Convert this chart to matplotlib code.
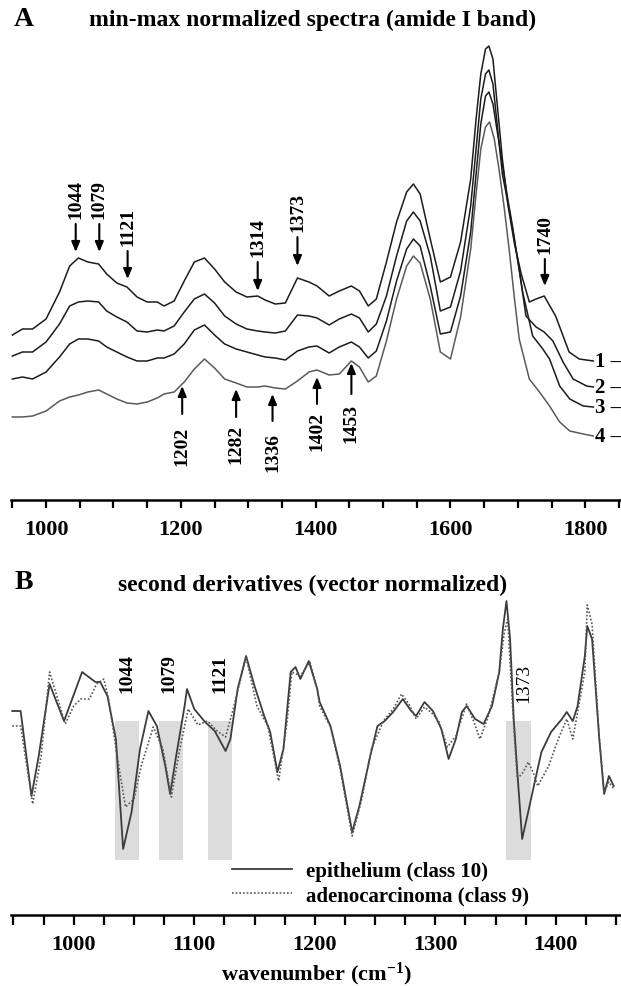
import matplotlib
matplotlib.use("Agg")
import matplotlib.pyplot as plt
from matplotlib.ticker import MultipleLocator, NullFormatter

plt.rcParams['font.family'] = ['Liberation Serif', 'DejaVu Serif']
plt.rcParams['font.weight'] = 'bold'
plt.rcParams['axes.labelweight'] = 'bold'
plt.rcParams['mathtext.fontset'] = 'custom'
plt.rcParams['mathtext.rm'] = 'Liberation Serif:bold'
plt.rcParams['mathtext.default'] = 'rm'

# ---------------- panel A: min-max normalized spectra (offset) ----------------
wn_common = [950, 965, 980, 1000, 1020, 1035, 1048, 1062, 1078, 1090,
             1105, 1120, 1135, 1150, 1165, 1175, 1190, 1205, 1220, 1235,
             1250, 1265, 1282, 1298, 1314, 1325, 1340, 1355, 1373, 1390,
             1402, 1420, 1435, 1453, 1465, 1478, 1490, 1505, 1520, 1535,
             1545, 1555, 1570, 1585, 1600, 1615, 1630]

spec1 = [1.64, 1.70, 1.70, 1.80, 2.07, 2.33, 2.41, 2.37, 2.35, 2.25,
         2.16, 2.12, 2.02, 1.97, 1.97, 1.93, 1.98, 2.18, 2.37, 2.41,
         2.30, 2.17, 2.07, 2.02, 2.03, 1.99, 1.95, 1.96, 2.21, 2.17,
         2.13, 2.03, 2.08, 2.13, 2.08, 1.93, 2.00, 2.37, 2.77, 3.07,
         3.15, 3.05, 2.60, 2.17, 2.22, 2.57, 3.20]
spec2 = [1.43, 1.47, 1.47, 1.57, 1.75, 1.93, 1.97, 1.98, 1.97, 1.88,
         1.82, 1.77, 1.68, 1.67, 1.69, 1.68, 1.73, 1.87, 2.00, 2.05,
         1.96, 1.83, 1.75, 1.70, 1.68, 1.67, 1.66, 1.68, 1.84, 1.83,
         1.81, 1.74, 1.80, 1.85, 1.81, 1.67, 1.75, 2.03, 2.43, 2.78,
         2.87, 2.78, 2.43, 1.88, 1.92, 2.28, 2.93]
spec3 = [1.20, 1.22, 1.20, 1.27, 1.42, 1.55, 1.60, 1.60, 1.58, 1.52,
         1.47, 1.42, 1.38, 1.38, 1.41, 1.41, 1.45, 1.55, 1.69, 1.74,
         1.64, 1.55, 1.50, 1.47, 1.44, 1.42, 1.41, 1.39, 1.48, 1.52,
         1.53, 1.46, 1.52, 1.57, 1.52, 1.41, 1.48, 1.78, 2.18, 2.50,
         2.60, 2.53, 2.13, 1.65, 1.67, 2.03, 2.67]
spec4 = [0.82, 0.82, 0.83, 0.88, 0.98, 1.02, 1.04, 1.07, 1.09, 1.05,
         1.00, 0.96, 0.95, 0.97, 1.01, 1.05, 1.07, 1.17, 1.30, 1.40,
         1.31, 1.20, 1.16, 1.12, 1.12, 1.13, 1.11, 1.10, 1.18, 1.27,
         1.29, 1.24, 1.25, 1.38, 1.32, 1.17, 1.23, 1.58, 2.00, 2.33,
         2.43, 2.36, 2.00, 1.47, 1.40, 1.82, 2.50]

# amide I / ester region, read separately for each trace
wn_hi1 = [1638, 1645, 1652, 1657, 1663, 1670, 1677, 1685, 1695, 1705,
          1717, 1727, 1739, 1756, 1776, 1791, 1812]
hi1 = [3.80, 4.25, 4.50, 4.53, 4.40, 3.90, 3.40, 2.95, 2.55, 2.25,
       1.97, 2.00, 2.03, 1.83, 1.47, 1.40, 1.38]
wn_hi2 = [1638, 1645, 1652, 1657, 1663, 1670, 1677, 1687, 1702, 1712,
          1727, 1739, 1752, 1767, 1782, 1802, 1812]
hi2 = [3.50, 4.00, 4.25, 4.29, 4.15, 3.70, 3.25, 2.90, 2.30, 1.83,
       1.72, 1.67, 1.58, 1.37, 1.20, 1.13, 1.12]
wn_hi3 = [1638, 1645, 1652, 1657, 1663, 1670, 1677, 1685, 1692, 1707,
          1722, 1737, 1747, 1762, 1777, 1797, 1812]
hi3 = [3.25, 3.75, 4.03, 4.07, 3.95, 3.65, 3.35, 3.00, 2.73, 2.07,
       1.63, 1.50, 1.40, 1.13, 1.00, 0.93, 0.92]
wn_hi4 = [1638, 1645, 1652, 1658, 1665, 1672, 1680, 1687, 1695, 1702,
          1717, 1732, 1747, 1762, 1777, 1797, 1812]
hi4 = [3.05, 3.50, 3.72, 3.77, 3.60, 3.30, 2.90, 2.50, 2.00, 1.60,
       1.20, 1.07, 0.93, 0.77, 0.68, 0.65, 0.63]

trace_labels = ['1', '2', '3', '4']
trace_colors = ['#1c1c1c', '#1c1c1c', '#1c1c1c', '#5a5a5a']

# band assignments marked with arrows
down_marks = [1044, 1079, 1121, 1314, 1373, 1740]
down_tail = [2.75, 2.75, 2.48, 2.37, 2.62, 2.40]
down_tip = [2.47, 2.47, 2.20, 2.08, 2.33, 2.13]
up_marks = [1202, 1282, 1336, 1402, 1453]
up_tail = [0.85, 0.82, 0.78, 0.95, 1.05]
up_tip = [1.13, 1.10, 1.05, 1.22, 1.36]
up_text_top = [0.73, 0.75, 0.67, 0.88, 0.96]

# ---------------- panel B: second derivatives ----------------
wn_epi = [949, 956, 965, 971, 980, 992, 1007, 1018, 1022, 1028,
          1035, 1041, 1048, 1055, 1062, 1069, 1076, 1080, 1085, 1092,
          1094, 1100, 1109, 1117, 1126, 1130, 1136, 1143, 1150, 1158,
          1163, 1169, 1174, 1180, 1184, 1188, 1195, 1202, 1204, 1213,
          1221, 1231, 1237, 1246, 1252, 1258, 1265, 1273, 1280, 1284,
          1291, 1298, 1305, 1311, 1317, 1322, 1326, 1333, 1340, 1347,
          1353, 1356, 1359, 1362, 1365, 1368, 1372, 1377, 1383, 1388,
          1396, 1405, 1409, 1414, 1418, 1424, 1426, 1430, 1436, 1440,
          1444, 1448]
d2_epi = [0.00, 0.00, -0.85, -0.45, 0.27, -0.10, 0.39, 0.29, 0.29, 0.15,
          -0.28, -1.38, -1.01, -0.38, 0.00, -0.15, -0.55, -0.83, -0.45, 0.05,
          0.22, 0.02, -0.11, -0.20, -0.40, -0.28, 0.22, 0.55, 0.25, -0.05,
          -0.21, -0.61, -0.38, 0.39, 0.44, 0.32, 0.50, 0.22, 0.09, -0.15,
          -0.55, -1.21, -0.95, -0.45, -0.15, -0.10, -0.01, 0.12, 0.00, -0.05,
          0.09, 0.00, -0.18, -0.48, -0.28, -0.01, 0.05, -0.08, -0.13, 0.05,
          0.39, 0.82, 1.10, 0.72, -0.08, -0.61, -1.28, -1.01, -0.68, -0.41,
          -0.21, -0.08, -0.01, -0.10, 0.05, 0.55, 0.85, 0.72, -0.28, -0.83,
          -0.65, -0.75]

wn_adc = [949, 956, 966, 973, 980, 993, 1000, 1006, 1013, 1019,
          1025, 1029, 1036, 1043, 1050, 1056, 1066, 1074, 1081, 1088,
          1095, 1103, 1111, 1119, 1126, 1133, 1143, 1152, 1161, 1170,
          1177, 1181, 1188, 1196, 1202, 1204, 1213, 1221, 1231, 1239,
          1247, 1257, 1265, 1272, 1278, 1284, 1291, 1298, 1303, 1310,
          1317, 1326, 1332, 1337, 1344, 1353, 1357, 1360, 1364, 1368,
          1373, 1377, 1381, 1385, 1394, 1402, 1409, 1414, 1418, 1424,
          1426, 1430, 1436, 1440, 1444, 1448]
d2_adc = [-0.15, -0.15, -0.93, -0.45, 0.39, -0.13, 0.05, 0.12, 0.12, 0.27,
          0.32, 0.12, -0.45, -0.96, -0.88, -0.55, -0.16, -0.38, -0.86, -0.38,
          0.02, -0.14, -0.10, -0.20, -0.26, 0.05, 0.54, 0.05, -0.15, -0.70,
          -0.11, 0.39, 0.35, 0.49, 0.22, 0.05, -0.16, -0.58, -1.25, -0.88,
          -0.38, -0.10, 0.02, 0.17, 0.07, -0.08, 0.04, -0.03, -0.11, -0.36,
          -0.25, 0.07, -0.11, -0.28, -0.05, 0.39, 0.77, 0.92, 0.05, -0.68,
          -0.61, -0.51, -0.61, -0.75, -0.55, -0.28, -0.08, -0.28, -0.01, 0.39,
          1.06, 0.87, -0.28, -0.81, -0.71, -0.78]

band_marks = [1044, 1079, 1121, 1373]
band_lo = [1034, 1071, 1111, 1359]
band_hi = [1054, 1091, 1131, 1379]
band_top, band_bottom = -0.10, -1.49
band_label_bold = [True, True, True, False]


def style_axis(ax, xlim, major, minor):
    for s in ('left', 'right', 'top'):
        ax.spines[s].set_visible(False)
    ax.spines['bottom'].set_linewidth(1.8)
    ax.set_yticks([])
    ax.set_xlim(*xlim)
    ax.xaxis.set_major_locator(MultipleLocator(major))
    ax.xaxis.set_minor_locator(MultipleLocator(minor))
    ax.xaxis.set_minor_formatter(NullFormatter())
    ax.tick_params(axis='x', which='both', direction='out', length=6,
                   width=1.6, labelsize=16, pad=8)


fig = plt.figure(figsize=(6.21, 9.87), dpi=100)
W, H = 621.0, 987.0

# panel A
axA = fig.add_axes([11 / W, 1 - 501 / H, 610 / W, 461 / H])
wns = [wn_common + wn_hi1, wn_common + wn_hi2, wn_common + wn_hi3, wn_common + wn_hi4]
vals = [spec1 + hi1, spec2 + hi2, spec3 + hi3, spec4 + hi4]
for x, y, lab, c in zip(wns, vals, trace_labels, trace_colors):
    axA.plot(x, y, color=c, lw=1.1)
    # trace number with a short dash, flush with the right edge
    axA.text(1853, y[-1], lab + ' \u2013', ha='right', va='center',
             fontsize=15, color='k')

arrow_kw = dict(arrowstyle='-|>,head_length=0.6,head_width=0.25',
                color='k', lw=1.5, shrinkA=0, shrinkB=0)
for m, t0, t1 in zip(down_marks, down_tail, down_tip):
    axA.annotate('', xy=(m, t1), xytext=(m, t0), arrowprops=arrow_kw)
    axA.text(m, t0 + 0.06, str(m), rotation=90, ha='center', va='bottom',
             fontsize=14)
for m, t0, t1, tt in zip(up_marks, up_tail, up_tip, up_text_top):
    axA.annotate('', xy=(m, t1), xytext=(m, t0), arrowprops=arrow_kw)
    axA.text(m, tt, str(m), rotation=90, ha='center', va='top', fontsize=14)

axA.set_ylim(-0.01, 4.60)
style_axis(axA, (948, 1853), 200, 50)

# panel B
axB = fig.add_axes([11 / W, 1 - 916 / H, 610 / W, 326 / H])
for lo, hi in zip(band_lo, band_hi):
    axB.fill_between([lo, hi], band_bottom, band_top, color='#dcdcdc', lw=0, zorder=0)
for m, bold in zip(band_marks, band_label_bold):
    axB.text(m, band_top + (0.29 if bold else 0.19), str(m), rotation=90,
             ha='center', va='bottom', fontsize=14,
             fontweight='bold' if bold else 'normal')
axB.plot(wn_epi, d2_epi, color='#3c3c3c', lw=1.3, label='epithelium (class 10)')
axB.plot(wn_adc, d2_adc, color='#555555', lw=1.2, ls=(0, (1, 1.2)),
         label='adenocarcinoma (class 9)')
axB.set_ylim(-2.04, 1.22)
style_axis(axB, (948, 1454), 100, 25)
axB.tick_params(axis='x', which='both', length=7, pad=7)
axB.set_xlabel('wavenumber (cm$^{-1}$)', fontsize=16, fontweight='bold',
               labelpad=4)
axB.legend(loc='upper left', bbox_to_anchor=(0.362, 0.165), frameon=False,
           borderpad=0, borderaxespad=0, handlelength=2.9, handletextpad=0.65,
           labelspacing=0.2, fontsize=15)

# panel letters and titles
fig.text(24 / W, 1 - 20 / H, 'A', fontsize=20, ha='center', va='center')
fig.text(313 / W, 1 - 20 / H, 'min-max normalized spectra (amide I band)',
         fontsize=17, ha='center', va='center')
fig.text(24 / W, 1 - 583 / H, 'B', fontsize=20, ha='center', va='center')
fig.text(313 / W, 1 - 585 / H, 'second derivatives (vector normalized)',
         fontsize=17, ha='center', va='center')

fig.savefig('out.png', dpi=100)
